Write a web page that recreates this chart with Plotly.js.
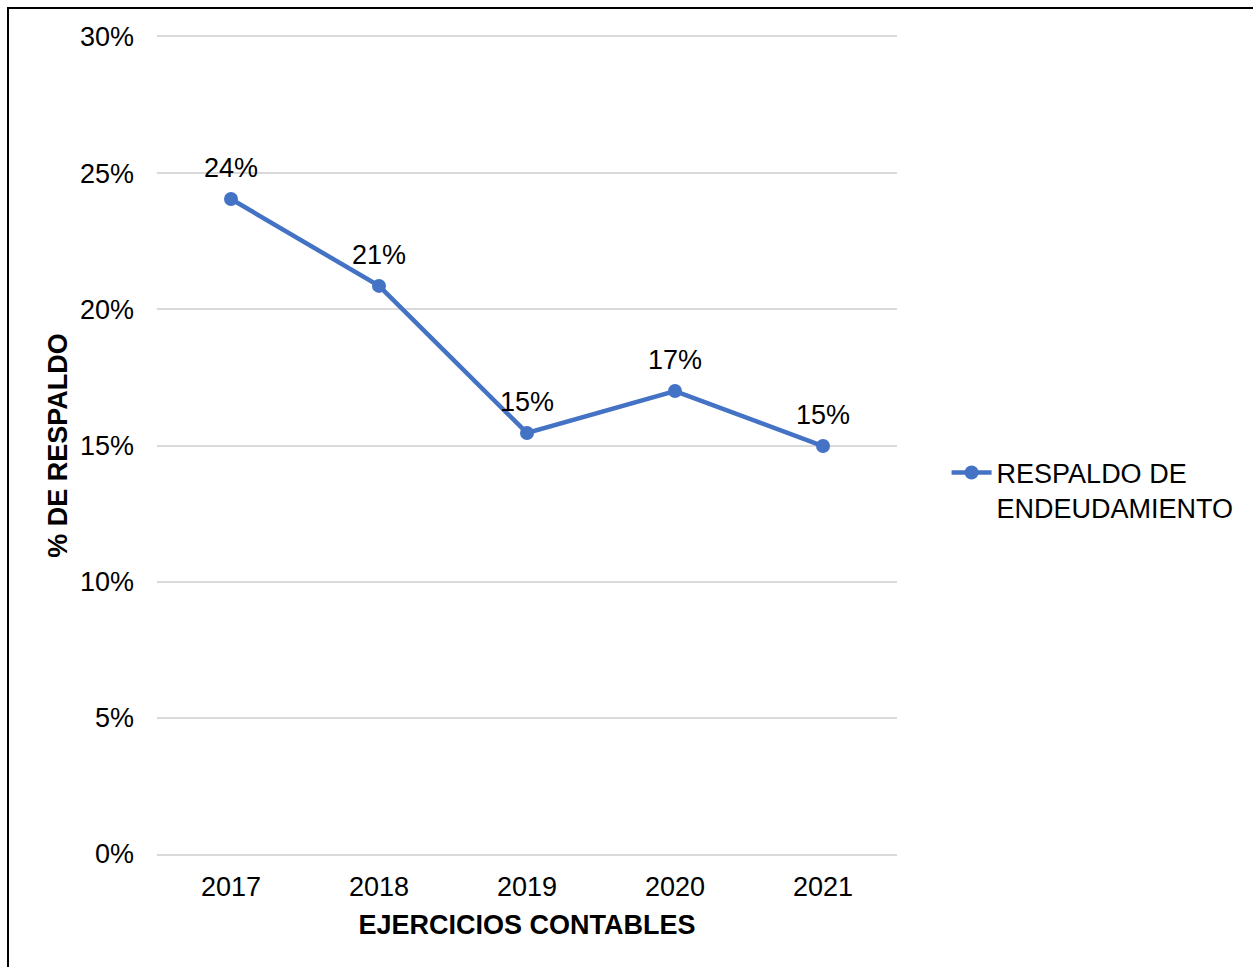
<!DOCTYPE html>
<html>
<head>
<meta charset="utf-8">
<script src="https://cdn.plot.ly/plotly-3.0.1.min.js"></script>
<style>
  html, body { margin: 0; padding: 0; background: #fff; overflow: hidden; }
  #chart { width: 1253px; height: 967px; }
  #frame { position: absolute; left: 7px; top: 7px; width: 1400px; height: 1100px;
           border: 2px solid #000; pointer-events: none; box-sizing: border-box; }
</style>
</head>
<body>
<div id="chart"></div>
<div id="frame"></div>
<script>
const years = ['2017', '2018', '2019', '2020', '2021'];
const respaldo = [0.2405, 0.2086, 0.1546, 0.1700, 0.1498];
const seriesName = 'RESPALDO DE<br>ENDEUDAMIENTO';
const yTickVals = [0, 0.05, 0.10, 0.15, 0.20, 0.25, 0.30];

const FONT = 'Liberation Sans, Arial, sans-serif';
const FS = 27;
const BLUE = '#4472C4';
const GRID = '#d9d9d9';

const trace = {
  x: years,
  y: respaldo,
  type: 'scatter',
  mode: 'lines+markers',
  name: seriesName,
  line: { color: BLUE, width: 4.5 },
  marker: { color: BLUE, size: 14 },
  cliponaxis: false,
  hoverinfo: 'x+y'
};

const labels = years.map((yr, i) => ({
  x: i,
  y: respaldo[i],
  xref: 'x', yref: 'y',
  text: Math.round(respaldo[i] * 100) + '%',
  showarrow: false,
  yshift: 31,
  font: { family: FONT, size: FS, color: '#000' }
}));

const layout = {
  width: 1253,
  height: 967,
  margin: { l: 157, r: 356, t: 37, b: 113 },
  paper_bgcolor: '#fff',
  plot_bgcolor: '#fff',
  font: { family: FONT, size: FS, color: '#000' },
  showlegend: true,
  legend: {
    x: 1.067, y: 0.445, xanchor: 'left', yanchor: 'middle',
    valign: 'top',
    font: { family: FONT, size: FS, color: '#000' },
    bgcolor: 'rgba(0,0,0,0)', borderwidth: 0,
    itemwidth: 40
  },
  annotations: labels,
  xaxis: {
    type: 'category',
    range: [-0.5, 4.5],
    showgrid: false,
    showline: true,
    mirror: true,
    linecolor: GRID,
    linewidth: 2,
    zeroline: false,
    ticks: '',
    ticklabelstandoff: 8,
    tickfont: { family: FONT, size: FS, color: '#000' },
    title: { text: '<b>EJERCICIOS CONTABLES</b>', font: { family: FONT, size: FS, color: '#000' }, standoff: 14 }
  },
  yaxis: {
    range: [0, 0.30],
    tickvals: yTickVals,
    tickformat: '.0%',
    showgrid: true,
    gridcolor: GRID,
    gridwidth: 2,
    zeroline: false,
    showline: false,
    ticks: '',
    ticklabelstandoff: 22,
    tickfont: { family: FONT, size: FS, color: '#000' },
    title: { text: '<b>% DE RESPALDO</b>', font: { family: FONT, size: FS, color: '#000' }, standoff: 4 }
  }
};

Plotly.newPlot('chart', [trace], layout, { displayModeBar: false, staticPlot: true });
</script>
</body>
</html>
